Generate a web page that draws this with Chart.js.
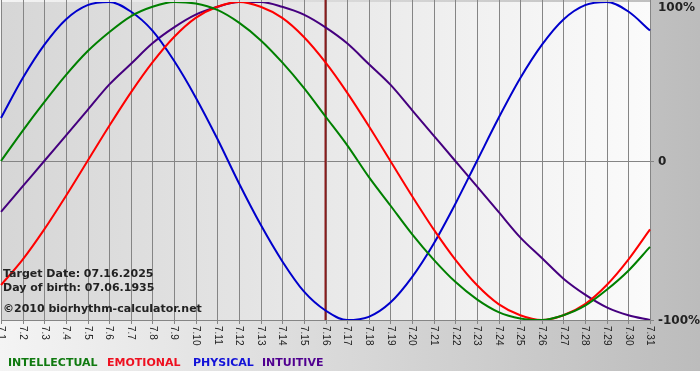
<!DOCTYPE html>
<html>
<head>
<meta charset="utf-8">
<script src="https://cdn.jsdelivr.net/npm/chart.js@4/dist/chart.umd.min.js"></script>
<style>
  body { margin: 0; background: #fff; }
  #wrap { width: 700px; height: 380px; }
</style>
</head>
<body>
<div id="wrap"><canvas id="myChart" width="700" height="380"></canvas></div>
<script>
const days = ['7.1', '7.2', '7.3', '7.4', '7.5', '7.6', '7.7', '7.8', '7.9', '7.10',
    '7.11', '7.12', '7.13', '7.14', '7.15', '7.16', '7.17', '7.18', '7.19', '7.20',
    '7.21', '7.22', '7.23', '7.24', '7.25', '7.26', '7.27', '7.28', '7.29', '7.30', '7.31'];

// percent values, one per day
const intellectual = [0, 19, 37, 54, 69, 81, 91, 97, 100, 99, 95, 87, 76, 62, 46, 28,
    10, -10, -28, -46, -62, -76, -87, -95, -99, -100, -97, -91, -81, -69, -54];
const emotional = [-78, -62, -43, -22, 0, 22, 43, 62, 78, 90, 97, 100, 97, 90, 78, 62,
    43, 22, 0, -22, -43, -62, -78, -90, -97, -100, -97, -90, -78, -62, -43];
const physical = [27, 52, 73, 89, 98, 100, 94, 82, 63, 40, 14, -14, -40, -63, -82, -94,
    -100, -98, -89, -73, -52, -27, 0, 27, 52, 73, 89, 98, 100, 94, 82];
const intuitive = [-32, -16, 0, 16, 32, 48, 61, 74, 84, 92, 97, 100, 100, 97, 92, 84,
    74, 61, 48, 32, 16, 0, -16, -32, -48, -61, -74, -84, -92, -97, -100];

const targetDay = '7.16';
const yTicks = [100, 0, -100];
const yTickLabels = ['100%', '0', '-100%'];
const infoLines = ['Target Date: 07.16.2025', 'Day of birth: 07.06.1935', '\u00a92010 biorhythm-calculator.net'];
const legendNames = ['INTELLECTUAL', 'EMOTIONAL', 'PHYSICAL', 'INTUITIVE'];
const legendColors = ['#107a10', '#ee1020', '#1212d8', '#500090'];
const legendX = [8, 107, 193, 262];

const backdrop = {
    id: 'backdrop',
    beforeDraw(chart) {
        const c = chart.ctx, a = chart.chartArea;
        c.save();
        let g = c.createLinearGradient(0, 0, 700, 0);
        g.addColorStop(0, '#f4f4f4');
        g.addColorStop(1, '#bcbcbc');
        c.fillStyle = g;
        c.fillRect(0, 0, 700, 371);
        c.fillStyle = '#ffffff';
        c.fillRect(0, 371, 700, 9);

        g = c.createLinearGradient(a.left, 0, a.right, 0);
        g.addColorStop(0, '#d6d6d6');
        g.addColorStop(1, '#fbfbfb');
        c.fillStyle = g;
        c.fillRect(a.left, a.top, a.right - a.left, a.bottom - a.top);

        const x = chart.scales.x, y = chart.scales.y;
        c.strokeStyle = '#858585';
        c.lineWidth = 1;
        days.forEach(function (d, i) {
            const px = Math.round(x.getPixelForValue(i)) + 0.5;
            c.beginPath();
            c.moveTo(px, 0);
            c.lineTo(px, a.bottom + 4);
            c.stroke();
        });
        [0, -100].forEach(function (v) {
            const py = Math.round(y.getPixelForValue(v)) + 0.5;
            c.beginPath();
            c.moveTo(a.left, py);
            c.lineTo(a.right + 4, py);
            c.stroke();
        });

        // tick labels, reading downward
        c.fillStyle = '#222';
        c.font = '10px "Liberation Sans"';
        c.textBaseline = 'middle';
        c.textAlign = 'left';
        days.forEach(function (d, i) {
            const px = x.getPixelForValue(i);
            c.save();
            c.translate(px, a.bottom + 6);
            c.rotate(Math.PI / 2);
            c.fillText(d, 0, 0);
            c.restore();
        });

        c.font = 'bold 12px "DejaVu Sans"';
        yTicks.forEach(function (v, i) {
            let py = y.getPixelForValue(v);
            if (v === 100) py = 7;
            c.fillText(yTickLabels[i], 658, py + 1);
        });

        // target date marker
        const tx = x.getPixelForValue(days.indexOf(targetDay));
        c.strokeStyle = '#8a1c1c';
        c.lineWidth = 2;
        c.beginPath();
        c.moveTo(tx, 0);
        c.lineTo(tx, a.bottom);
        c.stroke();
        c.restore();
    },
    afterDraw(chart) {
        const c = chart.ctx;
        c.save();
        c.font = 'bold 11px "DejaVu Sans"';
        c.fillStyle = '#222';
        c.textBaseline = 'alphabetic';
        c.fillText(infoLines[0], 3, 277);
        c.fillText(infoLines[1], 3, 291);
        c.fillText(infoLines[2], 3, 312);

        legendNames.forEach(function (n, i) {
            c.fillStyle = legendColors[i];
            c.fillText(n, legendX[i], 366);
        });
        c.restore();
    }
};

const ctx = document.getElementById('myChart').getContext('2d');
const bioChart = new Chart(ctx, {
    type: 'line',
    data: {
        labels: days,
        datasets: [
            { label: 'Intellectual', data: intellectual, borderColor: '#008000' },
            { label: 'Emotional', data: emotional, borderColor: '#ff0000' },
            { label: 'Physical', data: physical, borderColor: '#0000cc' },
            { label: 'Intuitive', data: intuitive, borderColor: '#45007f' }
        ]
    },
    options: {
        responsive: false,
        animation: false,
        layout: { padding: { left: 1, top: 2, right: 50, bottom: 60 } },
        elements: {
            line: { borderWidth: 2, cubicInterpolationMode: 'monotone', fill: false },
            point: { radius: 0 }
        },
        plugins: { legend: { display: false }, tooltip: { enabled: false } },
        scales: {
            x: { display: false },
            y: { display: false, min: -100, max: 100 }
        }
    },
    plugins: [backdrop]
});
</script>
</body>
</html>
